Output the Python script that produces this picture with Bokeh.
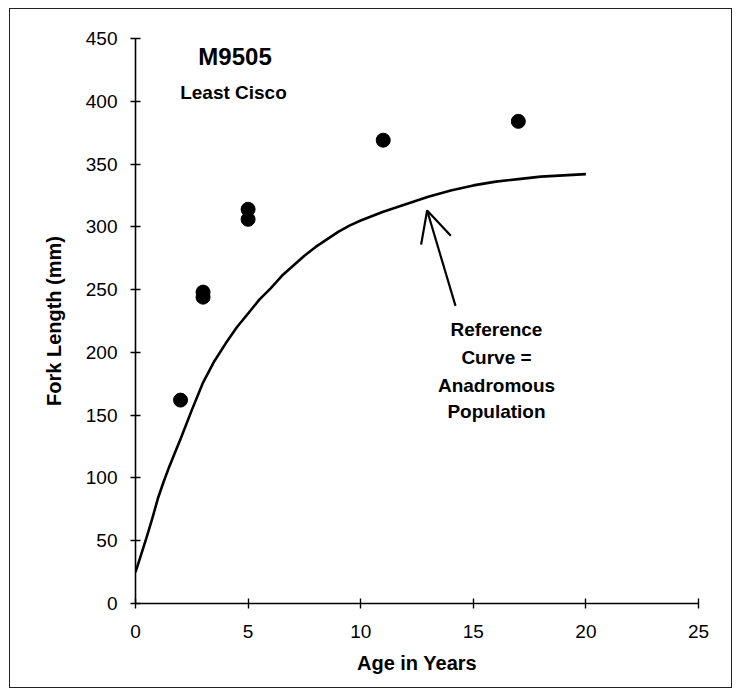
from bokeh.plotting import figure
from bokeh.models import Range1d, FixedTicker, Label, Arrow, OpenHead, InlineStyleSheet
from bokeh.embed import file_html
from bokeh.resources import INLINE

# Observed data points (Least Cisco, M9505)
obs_age = [2, 3, 3, 5, 5, 11, 17]
obs_length = [162, 248, 244, 314, 306, 369, 384]

# Reference curve (anadromous population)
curve_age = [0, 0.25, 0.5, 0.75, 1, 1.25, 1.5, 1.75, 2, 2.5, 3, 3.5, 4, 4.5, 5, 5.5, 6, 6.5,
             7, 7.5, 8, 8.5, 9, 9.5, 10, 11, 12, 13, 14, 15, 16, 17, 18, 19, 20]
curve_length = [25, 39, 53, 68, 84, 97, 109, 120, 131, 154, 176, 193, 207, 220, 231, 242, 251, 261,
                269, 277, 284, 290, 296, 301, 305, 312, 318, 324, 329, 333, 336, 338, 340, 341, 342]

x_ticks = [0, 5, 10, 15, 20, 25]
y_ticks = [0, 50, 100, 150, 200, 250, 300, 350, 400, 450]

title_text = "M9505"
subtitle_text = "Least Cisco"
note_lines = ["Reference", "Curve =", "Anadromous", "Population"]

FONT = "Liberation Sans"

frame_css = InlineStyleSheet(css="""
:host { position: relative; }
:host::after {
  content: "";
  position: absolute;
  left: 9px; top: 8px; width: 723px; height: 680px;
  box-sizing: border-box;
  border: 1.5px solid #222222;
  pointer-events: none;
}
""")

p = figure(width=736, height=691, output_backend="svg", toolbar_location=None,
           x_range=Range1d(0, 25), y_range=Range1d(0, 450),
           min_border_left=135, min_border_right=38, min_border_top=38, min_border_bottom=88,
           stylesheets=[frame_css])
p.outline_line_color = None
p.grid.visible = False
p.background_fill_color = "white"
p.border_fill_color = "white"

for ax, ticks in ((p.xaxis[0], x_ticks), (p.yaxis[0], y_ticks)):
    ax.ticker = FixedTicker(ticks=ticks)
    ax.minor_tick_line_color = None
    ax.major_tick_in = 5
    ax.major_tick_out = 5
    ax.axis_line_width = 1.6
    ax.major_tick_line_width = 1.4
    ax.axis_line_color = "black"
    ax.major_tick_line_color = "black"
    ax.major_label_text_font = FONT
    ax.major_label_text_font_size = "19px"
    ax.major_label_text_color = "black"
    ax.axis_label_text_font = FONT
    ax.axis_label_text_font_style = "bold"
    ax.axis_label_text_font_size = "20px"
    ax.axis_label_text_color = "black"

p.xaxis.axis_label = "Age in Years"
p.yaxis.axis_label = "Fork Length (mm)"
p.xaxis.major_label_standoff = 16
p.xaxis.axis_label_standoff = 11
p.yaxis.major_label_standoff = 13
p.yaxis.axis_label_standoff = 18

p.line(curve_age, curve_length, line_color="black", line_width=2.6, line_join="round")
p.scatter(obs_age, obs_length, size=14, fill_color="black", line_color="black")

p.add_layout(Label(x=4.42, y=436, text=title_text, text_align="center", text_baseline="middle",
                   text_font=FONT, text_font_style="bold", text_font_size="24px",
                   text_color="black"))
p.add_layout(Label(x=4.35, y=407, text=subtitle_text, text_align="center", text_baseline="middle",
                   text_font=FONT, text_font_style="bold", text_font_size="19px",
                   text_color="black"))

note_y = [218, 196, 174, 153]
for txt, yy in zip(note_lines, note_y):
    p.add_layout(Label(x=16.03, y=yy, text=txt, text_align="center", text_baseline="middle",
                       text_font=FONT, text_font_style="bold", text_font_size="19px",
                       text_color="black"))

p.add_layout(Arrow(end=OpenHead(size=31, line_width=2.2, line_color="black"),
                   x_start=14.21, y_start=237, x_end=12.95, y_end=313,
                   line_width=2.2, line_color="black"))

open("out.html", "w").write(file_html(p, INLINE))
